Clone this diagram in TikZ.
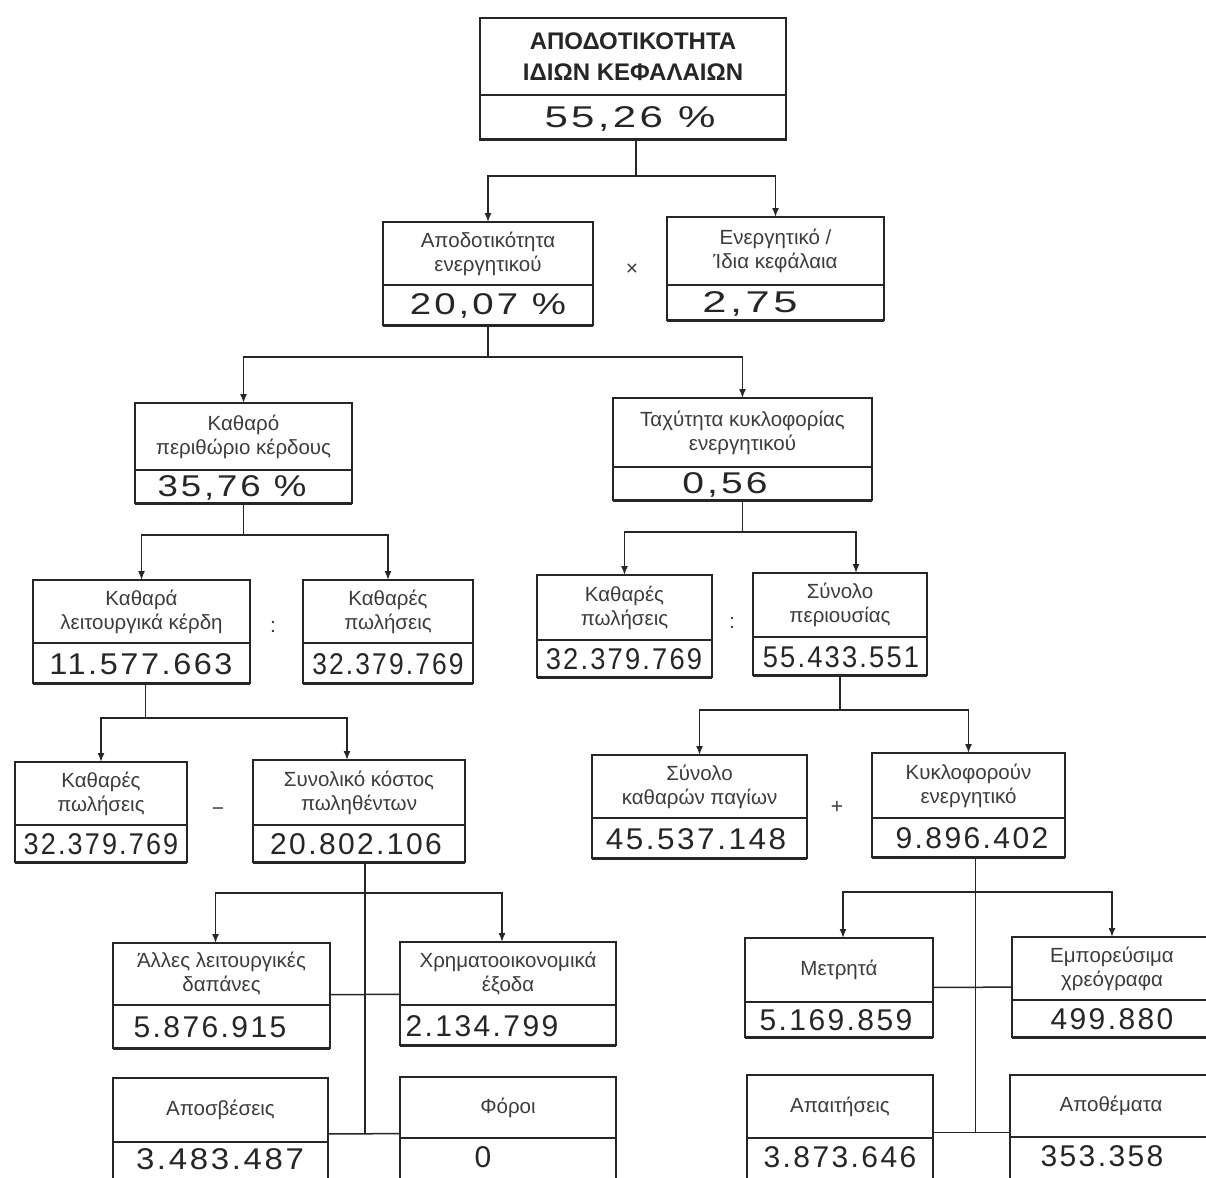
\documentclass[tikz,border=0pt]{standalone}
\usepackage{fontspec}
\setmainfont{Liberation Sans}
\newfontfamily\valfont[LetterSpace=8]{Liberation Sans}
\usetikzlibrary{arrows.meta,calc}
\definecolor{ink}{HTML}{262626}
\definecolor{txt}{HTML}{3C3C3C}
\tikzset{
  boxst/.style={draw=ink, line width=1.6pt, inner sep=0pt, outer sep=0pt},
  divst/.style={draw=ink, line width=1.3pt},
  botst/.style={draw=ink, line width=3pt},
  labst/.style={align=center, text=txt, inner sep=0pt, font=\fontsize{20.5}{24}\selectfont},
  titst/.style={align=center, text=ink, inner sep=0pt, font=\bfseries\fontsize{24}{31}\selectfont},
  valst/.style={text=ink, inner sep=0pt, font=\valfont\fontsize{30}{32}\selectfont},
  conn/.style={draw=ink, line width=1.5pt},
  arr/.style={conn, -{Latex[length=9pt,width=7pt]}},
  opst/.style={text=txt, inner sep=0pt, font=\fontsize{21}{22}\selectfont}
}
\newcommand{\sqz}[2]{\scalebox{#1}[1]{#2}}
% name, x1, y1, x2, y2, ydiv, label, value, value-x
\newcommand{\kbox}[9]{%
  \node[boxst, anchor=north west, minimum width={(#4-#2)*1pt}, minimum height={(#5-#3)*1pt}] (#1) at (#2,#3) {};
  \draw[divst] (#1.west |- 0,#6) -- (#1.east |- 0,#6);
  \draw[botst] (#1.south west) -- (#1.south east);
  \node[labst] (#1-l) at ({(#2+#4)/2},{(#3+#6)/2}) {#7};
  \node[valst] (#1-v) at ({#9},{(#6+min(#5,1174))/2+1}) {#8};
}
\begin{document}
\begin{tikzpicture}[x=1pt,y=-1pt]
\fill[white] (0,0) rectangle (1206,1177);
\useasboundingbox (0,0) rectangle (1206,1177);

% level 1
\node[boxst, anchor=north west, minimum width=306pt, minimum height=122pt] (T) at (480,18) {};
\draw[divst] (T.west |- 0,95) -- (T.east |- 0,95);
\draw[botst] (T.south west) -- (T.south east);
\node[titst] (T-l) at (633,57) {ΑΠΟΔΟΤΙΚΟΤΗΤΑ\\ΙΔΙΩΝ ΚΕΦΑΛΑΙΩΝ};
\node[valst] (T-v) at (630,119) {\sqz{1.4}{55,26 \%}};

% level 2
\kbox{A}{383}{222}{593}{325}{285}{Αποδοτικότητα\\ενεργητικού}{\sqz{1.28}{20,07 \%}}{488}
\kbox{B}{667}{217}{884}{320}{285}{Ενεργητικό /\\Ίδια κεφάλαια}{\sqz{1.45}{2,75}}{750}
\node[opst] (op1) at (632,270) {×};

% level 3
\kbox{C}{135}{403}{352}{503}{470}{Καθαρό\\περιθώριο κέρδους}{\sqz{1.22}{35,76 \%}}{232}
\kbox{D}{613}{398}{872}{500}{467}{Ταχύτητα κυκλοφορίας\\ενεργητικού}{\sqz{1.3}{0,56}}{725}

% level 4
\kbox{E1}{33}{580}{250}{683}{643}{Καθαρά\\λειτουργικά κέρδη}{\sqz{1.08}{11.577.663}}{141}
\kbox{E2}{303}{580}{473}{683}{643}{Καθαρές\\πωλήσεις}{\sqz{0.88}{32.379.769}}{388}
\node[opst] (op2) at (273,627) {:};
\kbox{E3}{537}{575}{712}{677}{640}{Καθαρές\\πωλήσεις}{\sqz{0.91}{32.379.769}}{624}
\kbox{E4}{753}{573}{927}{675}{637}{Σύνολο\\περιουσίας}{\sqz{0.91}{55.433.551}}{841}
\node[opst] (op3) at (732,623) {:};

% level 5
\kbox{F1}{15}{762}{187}{862}{825}{Καθαρές\\πωλήσεις}{\sqz{0.9}{32.379.769}}{101}
\kbox{F2}{253}{760}{465}{862}{825}{Συνολικό κόστος\\πωληθέντων}{20.802.106}{356}
\node[opst] (op4) at (218,812) {−};
\kbox{F3}{592}{755}{807}{858}{818}{Σύνολο\\καθαρών παγίων}{\sqz{1.05}{45.537.148}}{696}
\kbox{F4}{872}{753}{1065}{857}{818}{Κυκλοφορούν\\ενεργητικό}{9.896.402}{972}
\node[opst] (op5) at (837,807) {+};

% level 6 left
\kbox{G1}{113}{943}{330}{1048}{1005}{Άλλες λειτουργικές\\δαπάνες}{5.876.915}{210}
\kbox{G2}{400}{942}{616}{1045}{1005}{Χρηματοοικονομικά\\έξοδα}{2.134.799}{482}
\kbox{G3}{113}{1078}{328}{1190}{1142}{Αποσβέσεις}{\sqz{1.1}{3.483.487}}{220}
\kbox{G4}{400}{1077}{616}{1190}{1138}{Φόροι}{0}{483}

% level 6 right
\kbox{H1}{745}{938}{933}{1037}{1002}{Μετρητά}{5.169.859}{836}
\kbox{H2}{1012}{937}{1212}{1037}{1000}{Εμπορεύσιμα\\χρεόγραφα}{499.880}{1112}
\kbox{H3}{747}{1075}{933}{1190}{1138}{Απαιτήσεις}{3.873.646}{840}
\kbox{H4}{1010}{1075}{1212}{1190}{1137}{Αποθέματα}{353.358}{1102}

% connectors
\coordinate (j0) at (636,176);
\draw[conn] (T.south -| j0) -- (j0);
\draw[arr] (j0) -| (A.north);
\draw[arr] (j0) -| (B.north);

\coordinate (j1) at (0,357);
\draw[conn] (A.south) -- (A.south |- j1);
\draw[arr] (A.south |- j1) -| (C.north);
\draw[arr] (A.south |- j1) -| (D.north);

\coordinate (j2) at (0,535);
\draw[conn] (C.south) -- (C.south |- j2);
\draw[arr] (C.south |- j2) -| (E1.north);
\draw[arr] (C.south |- j2) -| (E2.north);

\coordinate (j3) at (0,532);
\coordinate (e4in) at ($(E4.north)+(16,0)$);
\draw[conn] (D.south) -- (D.south |- j3);
\draw[arr] (D.south |- j3) -| (E3.north);
\draw[arr] (D.south |- j3) -| (e4in);

\coordinate (j4) at (0,718);
\coordinate (e1out) at ($(E1.south)+(4,0)$);
\coordinate (f2in) at ($(F2.north)+(-12,0)$);
\draw[conn] (e1out) -- (e1out |- j4);
\draw[arr] (e1out |- j4) -| (F1.north);
\draw[arr] (e1out |- j4) -| (f2in);

\coordinate (j5) at (0,710);
\draw[conn] (E4.south) -- (E4.south |- j5);
\draw[arr] (E4.south |- j5) -| (F3.north);
\draw[arr] (E4.south |- j5) -| (F4.north);

\coordinate (j6) at (0,893);
\coordinate (f2out) at ($(F2.south)+(6,0)$);
\coordinate (g1in) at ($(G1.north)+(-6,0)$);
\coordinate (g2in) at ($(G2.north)+(-6,0)$);
\draw[conn] (f2out) -- (f2out |- G3.east);
\draw[arr] (f2out |- j6) -| (g1in);
\draw[arr] (f2out |- j6) -| (g2in);
\draw[conn] (G1) -- (G2);
\draw[conn] (G3) -- (G4);

\coordinate (j7) at (0,892);
\coordinate (f4out) at ($(F4.south)+(7,0)$);
\coordinate (h1in) at ($(H1.north)+(4,0)$);
\draw[conn] (f4out) -- (f4out |- H3.east);
\draw[arr] (f4out |- j7) -| (h1in);
\draw[arr] (f4out |- j7) -| (H2.north);
\draw[conn] (H1) -- (H2);
\draw[conn] (H3) -- (H4);
\end{tikzpicture}
\end{document}
